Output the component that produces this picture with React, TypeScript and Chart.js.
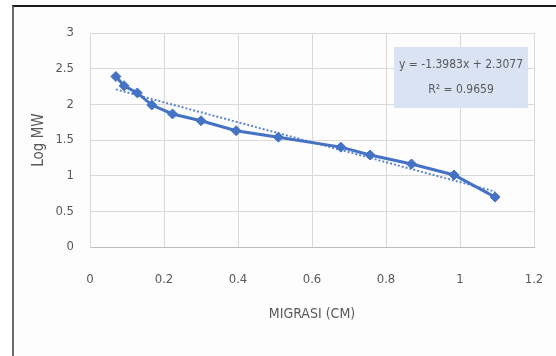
import React, { useEffect, useRef } from "react";
import { Chart, registerables } from "chart.js";
Chart.register(...registerables);

const migrasi = [0.07, 0.092, 0.128, 0.167, 0.223, 0.30, 0.395, 0.509, 0.678, 0.757, 0.869, 0.984, 1.095];
const logMW = [2.39, 2.26, 2.16, 1.99, 1.865, 1.77, 1.63, 1.54, 1.40, 1.29, 1.164, 1.01, 0.70];
const slope = -1.3983;
const intercept = 2.3077;
const r2 = 0.9659;
const xTicks = [0, 0.2, 0.4, 0.6, 0.8, 1, 1.2];
const yTicks = [0, 0.5, 1, 1.5, 2, 2.5, 3];

const FONT = "'Liberation Sans Narrow', 'DejaVu Sans Condensed', 'Open Sans', sans-serif";
const TEXT = "#595959";
const BLUE = "#4472c4";

const fmt = (v: number) => String(Math.round(v * 10) / 10);

const eqBox = {
  id: "eqBox",
  afterDraw(chart: any) {
    const { ctx, chartArea } = chart;
    const w = 134, h = 61;
    const x = chartArea.right - 6 - w;
    const y = chartArea.top + 14;
    ctx.save();
    ctx.fillStyle = "#dae3f3";
    ctx.fillRect(x, y, w, h);
    ctx.fillStyle = TEXT;
    ctx.font = `12px ${FONT}`;
    ctx.textAlign = "center";
    ctx.textBaseline = "middle";
    const sign = intercept >= 0 ? "+" : "-";
    const cx = x + w / 2;
    ctx.fillText(`y = ${slope.toFixed(4)}x ${sign} ${Math.abs(intercept).toFixed(4)}`, cx, y + 18);
    ctx.fillText(`R² = ${r2.toFixed(4)}`, cx, y + 43);
    ctx.restore();
  },
};

export default function App() {
  const ref = useRef<HTMLCanvasElement>(null);
  useEffect(() => {
    const xMin = Math.min(...migrasi);
    const xMax = Math.max(...migrasi);
    const chart = new Chart(ref.current!, {
      type: "scatter",
      data: {
        datasets: [
          {
            label: "Log MW",
            data: migrasi.map((x, i) => ({ x, y: logMW[i] })),
            showLine: true,
            borderColor: BLUE,
            backgroundColor: BLUE,
            borderWidth: 3,
            pointStyle: "rectRot",
            pointRadius: 5,
            pointBorderWidth: 1,
            order: 1,
          },
          {
            label: "Trend",
            data: [
              { x: xMin, y: slope * xMin + intercept },
              { x: xMax, y: slope * xMax + intercept },
            ],
            showLine: true,
            borderColor: "#5b86cf",
            borderWidth: 2,
            borderDash: [2, 2],
            pointRadius: 0,
            order: 2,
          },
        ],
      },
      options: {
        animation: false,
        responsive: false,
        layout: { padding: { left: 26, right: 22, top: 33, bottom: 29 } },
        plugins: { legend: { display: false }, tooltip: { enabled: false } },
        scales: {
          x: {
            type: "linear",
            min: 0,
            max: 1.2,
            afterBuildTicks: (s: any) => { s.ticks = xTicks.map((v) => ({ value: v })); },
            afterFit: (s: any) => { s.height = 80; s.paddingLeft = 0; s.paddingRight = 0; },
            ticks: { color: TEXT, font: { family: FONT, size: 13 }, padding: 25, callback: (v: any) => fmt(Number(v)) },
            grid: { color: "#d9d9d9", drawTicks: false },
            border: { color: "#bfbfbf" },
            title: { display: true, text: "MIGRASI (CM)", color: TEXT, font: { family: FONT, size: 14 } },
          },
          y: {
            min: 0,
            max: 3,
            afterBuildTicks: (s: any) => { s.ticks = yTicks.map((v) => ({ value: v })); },
            afterFit: (s: any) => { s.width = 64; s.paddingTop = 0; s.paddingBottom = 0; },
            ticks: { color: TEXT, font: { family: FONT, size: 13 }, padding: 16, callback: (v: any) => fmt(Number(v)) },
            grid: { color: "#d9d9d9", drawTicks: false },
            border: { color: "#d9d9d9" },
            title: { display: true, text: "Log MW", color: TEXT, font: { family: FONT, size: 15 } },
          },
        },
      },
      plugins: [eqBox],
    });
    return () => chart.destroy();
  }, []);
  return (
    <div style={{ position: "fixed", left: 0, top: 0, width: 556, height: 356, background: "#fff" }}>
      <div
        style={{
          position: "absolute",
          left: 12,
          top: 5,
          width: 544,
          height: 351,
          borderTop: "2px solid #1a1a1a",
          borderLeft: "2px solid #6b6b6b",
          background: "#fdfdfd",
        }}
      />
      <canvas ref={ref} width={556} height={356} style={{ position: "absolute", left: 0, top: 0 }} />
    </div>
  );
}
